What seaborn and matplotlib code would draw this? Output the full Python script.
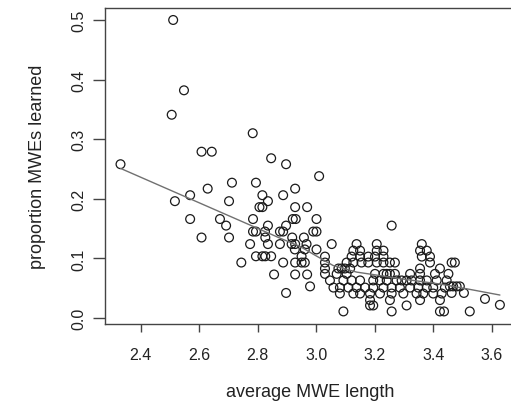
import matplotlib
matplotlib.use("Agg")
import matplotlib.pyplot as plt
import seaborn as sns
import pandas as pd

# average MWE length (x) and proportion of MWEs learned (y)
avg_length = [
    # sparse left / upper part
    2.511, 2.548, 2.506, 2.783, 2.608, 2.643, 2.846, 2.331, 2.897, 2.712,
    2.794, 2.629, 2.569, 2.517, 2.702, 2.816, 2.887, 2.928, 2.835, 2.806,
    2.816, 2.928, 2.569, 2.671, 2.692, 2.784, 2.920, 2.930, 2.608, 2.702,
    2.774, 2.784, 2.794, 2.825, 2.835, 2.826, 2.835, 2.876, 2.887, 2.897,
    2.876, 2.918, 2.916, 2.928, 2.794, 2.816, 2.826, 2.846, 2.744, 2.887,
    2.928, 2.856, 2.928, 2.897,
    3.010, 2.969, 3.001, 2.990, 3.001, 2.958, 2.967, 3.001, 2.927, 2.961,
    2.950, 2.950, 2.961, 2.969, 2.979, 3.258,
    # dense band
    3.053, 3.138, 3.207, 3.361,
    3.127, 3.150, 3.207, 3.230, 3.355, 3.378,
    3.030, 3.121, 3.150, 3.178, 3.201, 3.230, 3.361, 3.389,
    3.030, 3.104, 3.127, 3.155, 3.178, 3.207, 3.230, 3.252, 3.269, 3.389,
    3.030, 3.076, 3.087, 3.098, 3.116, 3.355, 3.423,
    3.030, 3.070, 3.104, 3.201, 3.230, 3.241, 3.252, 3.269, 3.321, 3.355,
    3.406, 3.452,
    3.047, 3.093, 3.121, 3.150, 3.195, 3.218, 3.241, 3.275, 3.292, 3.309,
    3.326, 3.355, 3.378, 3.412, 3.446,
    3.059, 3.081, 3.110, 3.138, 3.167, 3.195, 3.230, 3.258, 3.286, 3.321,
    3.349, 3.378, 3.400, 3.440,
    3.081, 3.127, 3.150, 3.184, 3.218, 3.258, 3.298, 3.343, 3.366, 3.400,
    3.429,
    3.184, 3.252, 3.355, 3.423,
    3.184, 3.195, 3.309,
    3.093, 3.258, 3.423, 3.437,
    # right tail
    3.463, 3.474, 3.457, 3.468, 3.480, 3.491, 3.463, 3.505, 3.577, 3.628,
    3.525,
]
prop_learned = [
    0.500, 0.382, 0.341, 0.310, 0.279, 0.279, 0.268, 0.258, 0.258, 0.227,
    0.227, 0.217, 0.206, 0.196, 0.196, 0.206, 0.206, 0.217, 0.196, 0.186,
    0.186, 0.186, 0.166, 0.166, 0.155, 0.166, 0.166, 0.166, 0.135, 0.135,
    0.124, 0.145, 0.145, 0.145, 0.155, 0.135, 0.124, 0.145, 0.145, 0.155,
    0.124, 0.135, 0.124, 0.124, 0.1035, 0.1035, 0.1035, 0.1035, 0.093, 0.093,
    0.093, 0.073, 0.073, 0.042,
    0.238, 0.186, 0.166, 0.145, 0.145, 0.135, 0.124, 0.115, 0.115, 0.115,
    0.1035, 0.093, 0.093, 0.073, 0.053, 0.155,
    0.124, 0.124, 0.124, 0.124,
    0.113, 0.113, 0.113, 0.113, 0.113, 0.113,
    0.103, 0.103, 0.103, 0.103, 0.103, 0.103, 0.103, 0.103,
    0.093, 0.093, 0.093, 0.093, 0.093, 0.093, 0.093, 0.093, 0.093, 0.093,
    0.083, 0.083, 0.083, 0.083, 0.083, 0.083, 0.083,
    0.074, 0.074, 0.074, 0.074, 0.074, 0.074, 0.074, 0.074, 0.074, 0.074,
    0.074, 0.074,
    0.063, 0.063, 0.063, 0.063, 0.063, 0.063, 0.063, 0.063, 0.063, 0.063,
    0.063, 0.063, 0.063, 0.063, 0.063,
    0.051, 0.051, 0.051, 0.051, 0.051, 0.051, 0.051, 0.051, 0.051, 0.051,
    0.051, 0.051, 0.051, 0.051,
    0.041, 0.041, 0.041, 0.041, 0.041, 0.041, 0.041, 0.041, 0.041, 0.041,
    0.041,
    0.030, 0.030, 0.030, 0.030,
    0.021, 0.021, 0.021,
    0.011, 0.011, 0.011, 0.011,
    0.093, 0.093, 0.053, 0.053, 0.053, 0.053, 0.042, 0.042, 0.032, 0.022,
    0.011,
]

# smoothed trend line
trend_x = [2.331, 2.876, 2.945, 2.990, 3.058, 3.138, 3.206, 3.286, 3.423, 3.514, 3.628]
trend_y = [0.251, 0.134, 0.120, 0.107, 0.088, 0.077, 0.072, 0.066, 0.057, 0.049, 0.0385]

x_ticks = [2.4, 2.6, 2.8, 3.0, 3.2, 3.4, 3.6]
x_tick_labels = ["2.4", "2.6", "2.8", "3.0", "3.2", "3.4", "3.6"]
y_ticks = [0.0, 0.1, 0.2, 0.3, 0.4, 0.5]
y_tick_labels = ["0.0", "0.1", "0.2", "0.3", "0.4", "0.5"]

df = pd.DataFrame({"avg_length": avg_length, "prop_learned": prop_learned})
trend = pd.DataFrame({"avg_length": trend_x, "prop_learned": trend_y})

sns.set_style("white")
plt.rcParams["font.family"] = ["Liberation Sans", "DejaVu Sans"]

W, H = 511, 406
fig = plt.figure(figsize=(W / 100, H / 100), dpi=100)
ax = fig.add_axes([105 / W, 81.3 / H, 410.7 / W, 315.4 / H])

sns.scatterplot(
    data=df, x="avg_length", y="prop_learned", ax=ax,
    facecolors="none", edgecolors="#1a1a1a", s=40, linewidths=0.9,
    marker="o", legend=False,
)
sns.lineplot(
    data=trend, x="avg_length", y="prop_learned", ax=ax,
    color="#707070", lw=1.0, sort=True, estimator=None,
)

ax.set_xlim(2.278, 3.682)
ax.set_ylim(-0.0096, 0.5196)

ax.set_xticks(x_ticks)
ax.set_xticklabels(x_tick_labels, fontsize=11.5, color="#222222")
ax.set_yticks(y_ticks)
ax.set_yticklabels(y_tick_labels, fontsize=11.5, color="#222222",
                   rotation=90, va="center")

ax.tick_params(axis="x", direction="out", length=6, width=1, color="#444444",
               pad=11, bottom=True)
ax.tick_params(axis="y", direction="out", length=8.5, width=1, color="#444444",
               pad=5, left=True)

for s in ax.spines.values():
    s.set_visible(True)
    s.set_color("#444444")
    s.set_linewidth(1.0)

ax.set_xlabel("average MWE length", fontsize=13, color="#222222", labelpad=15)
ax.set_ylabel("proportion MWEs learned", fontsize=13, color="#222222", labelpad=18)

fig.savefig("out.png", dpi=100, facecolor="white")
